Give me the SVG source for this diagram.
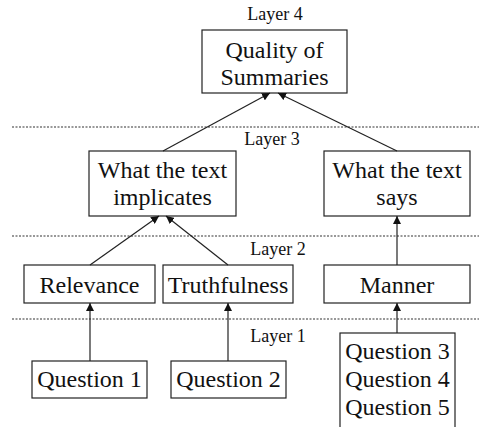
<svg xmlns="http://www.w3.org/2000/svg" width="479" height="427" viewBox="0 0 479 427">
<style>
.box{fill:#fff;stroke:#222;stroke-width:1.2}
.t{font-family:"Liberation Serif","Times New Roman",serif;font-size:24px;fill:#111;text-anchor:middle}
.lay{font-family:"Liberation Serif","Times New Roman",serif;font-size:18px;fill:#111;text-anchor:middle}
.dash{stroke:#333;stroke-width:1.2;stroke-dasharray:2 1.5;fill:none}
.c{stroke:#222;stroke-width:1.2;fill:none;marker-end:url(#ah)}
</style>
<defs>
<marker id="ah" viewBox="0 0 10 10" refX="10" refY="5" markerWidth="8" markerHeight="8" markerUnits="userSpaceOnUse" orient="auto">
<path d="M0,0 L10,5 L0,10 Z" fill="#111"/>
</marker>
</defs>
<g id="layers">
<text class="lay" x="275" y="20">Layer 4</text>
<line class="dash" x1="12" y1="127" x2="479" y2="127"/>
<text class="lay" x="272" y="145">Layer 3</text>
<line class="dash" x1="12" y1="236" x2="479" y2="236"/>
<text class="lay" x="278" y="255">Layer 2</text>
<line class="dash" x1="12" y1="319" x2="479" y2="319"/>
<text class="lay" x="278" y="342">Layer 1</text>
</g>
<g id="quality">
<rect class="box" x="202" y="30" width="145" height="63"/>
<text class="t" x="274.5" y="58">Quality of</text>
<text class="t" x="274.5" y="85">Summaries</text>
</g>
<g id="implicates">
<rect class="box" x="89" y="151" width="147" height="65"/>
<text class="t" x="162.5" y="178">What the text</text>
<text class="t" x="162.5" y="205">implicates</text>
</g>
<g id="says">
<rect class="box" x="324" y="151" width="146" height="65"/>
<text class="t" x="397" y="178">What the text</text>
<text class="t" x="397" y="205">says</text>
</g>
<g id="relevance">
<rect class="box" x="24" y="265" width="131" height="38"/>
<text class="t" x="89.5" y="293">Relevance</text>
</g>
<g id="truthfulness">
<rect class="box" x="163" y="265" width="130" height="38"/>
<text class="t" x="228" y="293">Truthfulness</text>
</g>
<g id="manner">
<rect class="box" x="324" y="265" width="146" height="38"/>
<text class="t" x="397" y="293">Manner</text>
</g>
<g id="q1">
<rect class="box" x="32" y="361" width="115" height="37"/>
<text class="t" x="89.5" y="387">Question 1</text>
</g>
<g id="q2">
<rect class="box" x="171" y="361" width="115" height="37"/>
<text class="t" x="228.5" y="387">Question 2</text>
</g>
<g id="q345">
<rect class="box" x="340" y="333" width="115" height="100"/>
<text class="t" x="397.5" y="359">Question 3</text>
<text class="t" x="397.5" y="387">Question 4</text>
<text class="t" x="397.5" y="415">Question 5</text>
</g>
<g id="connectors">
<line class="c" x1="163" y1="151" x2="270" y2="93"/>
<line class="c" x1="397" y1="151" x2="278" y2="93"/>
<line class="c" x1="90" y1="265" x2="159" y2="216"/>
<line class="c" x1="228" y1="265" x2="166" y2="216"/>
<line class="c" x1="397" y1="265" x2="397" y2="216"/>
<line class="c" x1="90" y1="361" x2="90" y2="303"/>
<line class="c" x1="228" y1="361" x2="228" y2="303"/>
<line class="c" x1="397" y1="333" x2="397" y2="303"/>
</g>
</svg>
